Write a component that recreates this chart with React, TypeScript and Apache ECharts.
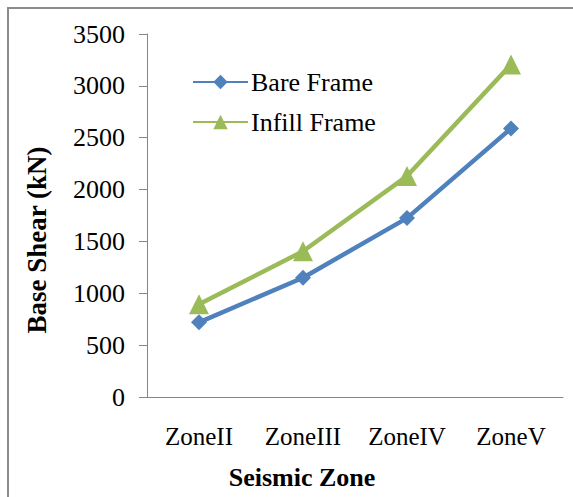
import React, { useEffect, useRef } from "react";
import * as echarts from "echarts";

const zones = ["ZoneII", "ZoneIII", "ZoneIV", "ZoneV"];
const bareFrame = [720, 1150, 1725, 2590];
const infillFrame = [895, 1405, 2130, 3205];
const yTicks = { min: 0, max: 3500, interval: 500 };

const SERIF = "Liberation Serif, Times New Roman, serif";

export default function App() {
  const ref = useRef<HTMLDivElement>(null);

  useEffect(() => {
    if (!ref.current) return;
    const chart = echarts.init(ref.current, null, { renderer: "svg" });
    chart.setOption({
      animation: false,
      backgroundColor: "#ffffff",
      textStyle: { fontFamily: SERIF },
      grid: { left: 147, right: 10, top: 34, bottom: 100, containLabel: false },
      legend: {
        orient: "vertical",
        left: 187,
        top: 64,
        itemWidth: 55,
        itemHeight: 18,
        itemGap: 14,
        textStyle: { fontFamily: SERIF, fontSize: 26, color: "#000", padding: [0, 0, 0, -2] },
        data: ["Bare Frame", "Infill Frame"],
      },
      xAxis: {
        type: "category",
        data: zones,
        boundaryGap: true,
        axisLine: { lineStyle: { color: "#868686", width: 1 } },
        axisTick: { show: false },
        axisLabel: {
          fontFamily: SERIF,
          fontSize: 25,
          color: "#000",
          margin: 27,
        },
      },
      yAxis: {
        type: "value",
        min: yTicks.min,
        max: yTicks.max,
        interval: yTicks.interval,
        splitLine: { show: false },
        axisLine: { show: true, lineStyle: { color: "#868686", width: 1 } },
        axisTick: { show: true, length: 8, lineStyle: { color: "#868686" } },
        axisLabel: {
          fontFamily: SERIF,
          fontSize: 26,
          color: "#000",
          margin: 22,
          formatter: (v: number) => String(v),
        },
      },
      series: [
        {
          name: "Bare Frame",
          type: "line",
          data: bareFrame,
          symbol: "diamond",
          symbolSize: 16,
          lineStyle: { width: 4.5, color: "#4F81BD" },
          itemStyle: { color: "#4F81BD" },
        },
        {
          name: "Infill Frame",
          type: "line",
          data: infillFrame,
          symbol: "triangle",
          symbolSize: 20,
          lineStyle: { width: 4.5, color: "#9BBB59" },
          itemStyle: { color: "#9BBB59" },
        },
      ],
      graphic: [
        {
          type: "rect",
          shape: { x: 8, y: 8, width: 700, height: 700 },
          style: { fill: "none", stroke: "#8c8c8c", lineWidth: 2 },
          silent: true,
        },
        {
          type: "text",
          x: 37,
          y: 240,
          rotation: Math.PI / 2,
          style: {
            text: "Base Shear (kN)",
            fontFamily: SERIF,
            fontSize: 27,
            fontWeight: "bold",
            fill: "#000",
            align: "center",
            verticalAlign: "middle",
          },
        },
        {
          type: "text",
          x: 302,
          y: 477,
          style: {
            text: "Seismic Zone",
            fontFamily: SERIF,
            fontSize: 26,
            fontWeight: "bold",
            fill: "#000",
            align: "center",
            verticalAlign: "middle",
          },
        },
      ],
    });
    return () => chart.dispose();
  }, []);

  return (
    <div
      ref={ref}
      style={{ width: 573, height: 497, position: "absolute", left: 0, top: 0 }}
    />
  );
}
